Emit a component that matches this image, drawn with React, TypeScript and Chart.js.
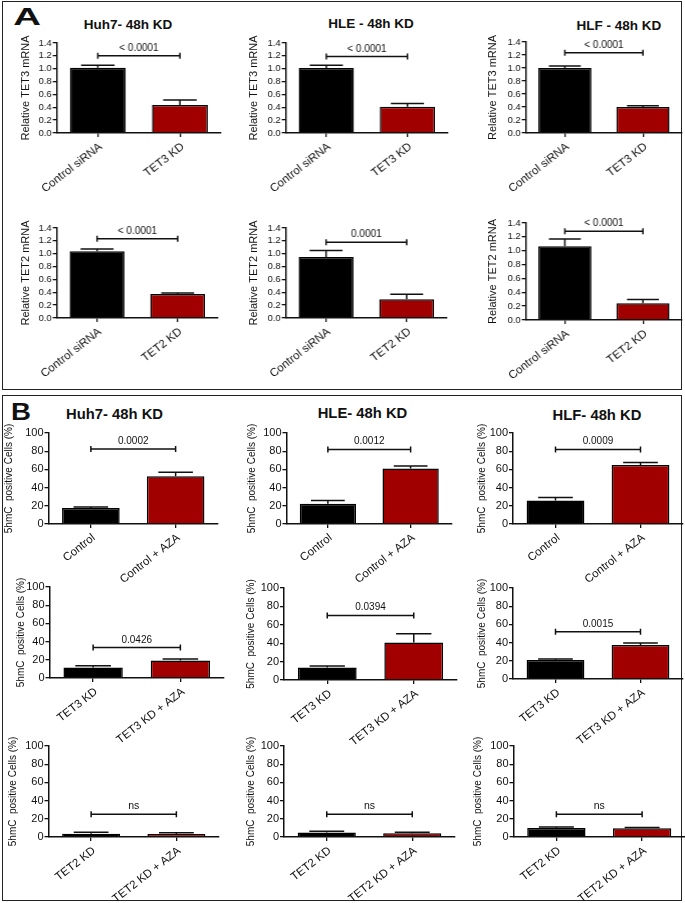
import React, { useEffect, useRef } from "react";
import { Chart, registerables } from "chart.js";

Chart.register(...registerables);

const FONT = "'Liberation Sans', Arial, Helvetica, sans-serif";

// ---------------- data ----------------
const panelATitles = ["Huh7- 48h KD", "HLE - 48h KD", "HLF - 48h KD"];
const panelBTitles = ["Huh7- 48h KD", "HLE- 48h KD", "HLF- 48h KD"];

const tet3Labels = ["Control siRNA", "TET3 KD"];
const tet3Mean = [[1.015, 0.437], [1.01, 0.41], [1.0, 0.4]];
const tet3Sem = [[0.04, 0.078], [0.045, 0.05], [0.03, 0.02]];
const tet3P = ["< 0.0001", "< 0.0001", "< 0.0001"];
const tet3Bracket = [1.2, 1.19, 1.235];

const tet2Labels = ["Control siRNA", "TET2 KD"];
const tet2Mean = [[1.037, 0.373], [0.95, 0.29], [1.063, 0.242]];
const tet2Sem = [[0.036, 0.016], [0.1, 0.08], [0.106, 0.053]];
const tet2P = ["< 0.0001", "0.0001", "< 0.0001"];
const tet2Bracket = [1.234, 1.18, 1.28];

const azaLabels = ["Control", "Control + AZA"];
const azaMean = [[17.6, 52.4], [22.2, 61], [25.8, 64.7]];
const azaSem = [[1.1, 4.4], [3.6, 2.6], [3.2, 2.9]];
const azaP = ["0.0002", "0.0012", "0.0009"];
const azaBracket = [82.5, 82, 82];

const tet3AzaLabels = ["TET3 KD", "TET3 KD + AZA"];
const tet3AzaMean = [[11.6, 19.3], [13.5, 40.7], [21, 37.5]];
const tet3AzaSem = [[1.9, 1.7], [1.8, 9.5], [1, 2]];
const tet3AzaP = ["0.0426", "0.0394", "0.0015"];
const tet3AzaBracket = [33.5, 70.2, 52];

const tet2AzaLabels = ["TET2 KD", "TET2 KD + AZA"];
const tet2AzaMean = [[3.6, 3.3], [5, 4], [9.8, 9.5]];
const tet2AzaSem = [[1.5, 1.4], [1.2, 1.1], [1.1, 1]];
const tet2AzaP = ["ns", "ns", "ns"];
const tet2AzaBracket = [25, 25, 25];

const mrnaMax = 1.4;
const mrnaStep = 0.2;
const pctMax = 100;
const pctStep = 20;

// ---------------- layout (page pixels) ----------------
const axisLeft = [57, 286, 526, 57, 286, 526, 48, 286, 513, 49, 284, 513, 48, 284, 513];
const axisRight = [221, 448, 682, 218, 447, 682, 218, 452, 683, 224, 457, 683, 219, 455, 685];
const plotTop = [43, 43, 42, 228, 228, 223, 433, 433, 433, 587, 588, 588, 746, 746, 746];
const plotBottom = [133, 133, 133, 318, 318, 320, 524, 524, 524, 678, 680, 679, 837, 837, 837];
const yTitleX = [26, 254, 493, 26, 254, 493, 8.5, 251.5, 482, 20.5, 251, 482, 12.5, 251, 477.5];

const BLACK = "#000000";
const RED = "#a00000";
const INK = "#111111";

type RowDef = {
  labels: string[];
  mean: number[][];
  sem: number[][];
  p: string[];
  bracket: number[];
  yTitle: string;
  kind: "A" | "B";
};

const rows: RowDef[] = [
  { labels: tet3Labels, mean: tet3Mean, sem: tet3Sem, p: tet3P, bracket: tet3Bracket, yTitle: "Relative TET3 mRNA", kind: "A" },
  { labels: tet2Labels, mean: tet2Mean, sem: tet2Sem, p: tet2P, bracket: tet2Bracket, yTitle: "Relative TET2 mRNA", kind: "A" },
  { labels: azaLabels, mean: azaMean, sem: azaSem, p: azaP, bracket: azaBracket, yTitle: "5hmC  positive Cells (%)", kind: "B" },
  { labels: tet3AzaLabels, mean: tet3AzaMean, sem: tet3AzaSem, p: tet3AzaP, bracket: tet3AzaBracket, yTitle: "5hmC  positive Cells (%)", kind: "B" },
  { labels: tet2AzaLabels, mean: tet2AzaMean, sem: tet2AzaSem, p: tet2AzaP, bracket: tet2AzaBracket, yTitle: "5hmC  positive Cells (%)", kind: "B" },
];

type Spec = {
  idx: number;
  labels: string[];
  mean: number[];
  sem: number[];
  p: string;
  bracket: number;
  yTitle: string;
  kind: "A" | "B";
};

const specs: Spec[] = [];
rows.forEach((r, ri) => {
  for (let c = 0; c < 3; c++) {
    specs.push({
      idx: ri * 3 + c,
      labels: r.labels,
      mean: r.mean[c],
      sem: r.sem[c],
      p: r.p[c],
      bracket: r.bracket[c],
      yTitle: r.yTitle,
      kind: r.kind,
    });
  }
});

function makeAnnotPlugin(sem: number[], bracket: number, pText: string, pFont: string) {
  return {
    id: "annot",
    afterDatasetsDraw(chart: any) {
      const ctx = chart.ctx;
      const meta = chart.getDatasetMeta(0);
      const ys = chart.scales.y;
      const vals = chart.data.datasets[0].data as number[];
      ctx.save();
      ctx.strokeStyle = INK;
      ctx.lineWidth = 1.5;
      meta.data.forEach((bar: any, i: number) => {
        const x = bar.x;
        const y = bar.y;
        const w = bar.width;
        const ye = ys.getPixelForValue(vals[i] + sem[i]);
        const hw = (w * 0.6) / 2;
        ctx.beginPath();
        ctx.moveTo(x, y);
        ctx.lineTo(x, ye);
        ctx.moveTo(x - hw, ye);
        ctx.lineTo(x + hw, ye);
        ctx.stroke();
      });
      const xa = meta.data[0].x;
      const xb = meta.data[1].x;
      const yb = ys.getPixelForValue(bracket);
      ctx.beginPath();
      ctx.moveTo(xa, yb);
      ctx.lineTo(xb, yb);
      ctx.moveTo(xa, yb - 3);
      ctx.lineTo(xa, yb + 3);
      ctx.moveTo(xb, yb - 3);
      ctx.lineTo(xb, yb + 3);
      ctx.stroke();
      ctx.fillStyle = INK;
      ctx.font = pFont;
      ctx.textAlign = "center";
      ctx.textBaseline = "alphabetic";
      ctx.fillText(pText, (xa + xb) / 2, yb - 5);
      ctx.restore();
    },
  };
}

function BarChart({ spec }: { spec: Spec }) {
  const ref = useRef<HTMLCanvasElement>(null);
  const i = spec.idx;
  const isA = spec.kind === "A";
  const titleSize = isA ? 11 : 10;
  const tickSize = isA ? 9.5 : 11;
  const labelSize = 11.5;
  const padTop = 12;
  const padRight = 12;
  const below = isA ? 75 : 90;
  const L = yTitleX[i] - titleSize * 0.6;
  const T = plotTop[i] - padTop;
  const W = axisRight[i] - L + padRight;
  const H = plotBottom[i] - T + below;
  const yAxisW = axisLeft[i] - L;

  useEffect(() => {
    if (!ref.current) return;
    const pFont = spec.p === "ns" ? `10.5px ${FONT}` : `10px ${FONT}`;
    const chart = new Chart(ref.current, {
      type: "bar",
      data: {
        labels: spec.labels,
        datasets: [
          {
            data: spec.mean,
            backgroundColor: [BLACK, RED],
            borderColor: BLACK,
            borderWidth: 1.5,
            barPercentage: 0.68,
            categoryPercentage: 1.0,
          },
        ],
      },
      options: {
        responsive: false,
        animation: false,
        layout: { padding: { top: padTop, right: padRight, left: 0, bottom: 0 } },
        plugins: {
          legend: { display: false },
          tooltip: { enabled: false },
          title: { display: false },
        },
        scales: {
          x: {
            type: "category",
            offset: true,
            grid: {
              display: true,
              offset: false,
              drawOnChartArea: false,
              drawTicks: true,
              tickLength: 4,
              color: INK,
              lineWidth: 1.3,
            },
            border: { display: true, color: INK, width: 1.5 },
            ticks: {
              autoSkip: false,
              maxRotation: 38,
              minRotation: 38,
              padding: 3,
              labelOffset: 3,
              color: INK,
              font: { family: FONT, size: labelSize },
            },
            afterFit: (s: any) => {
              s.height = below;
            },
          },
          y: {
            type: "linear",
            min: 0,
            max: isA ? mrnaMax : pctMax,
            grid: {
              display: true,
              drawOnChartArea: false,
              drawTicks: true,
              tickLength: 4,
              color: INK,
              lineWidth: 1.3,
            },
            border: { display: true, color: INK, width: 1.5 },
            ticks: {
              autoSkip: false,
              stepSize: isA ? mrnaStep : pctStep,
              padding: 1,
              color: INK,
              font: { family: FONT, size: tickSize },
              callback: (v: any) => (isA ? Number(v).toFixed(1) : String(v)),
            },
            title: {
              display: true,
              text: spec.yTitle,
              color: INK,
              padding: { top: 0, bottom: 0 },
              font: { family: FONT, size: titleSize },
            },
            afterFit: (s: any) => {
              s.width = yAxisW;
            },
          },
        },
      } as any,
      plugins: [makeAnnotPlugin(spec.sem, spec.bracket, spec.p, pFont)],
    });
    return () => chart.destroy();
  }, []);

  return (
    <canvas
      ref={ref}
      width={W}
      height={H}
      style={{ position: "absolute", left: L, top: T, width: W, height: H }}
    />
  );
}

const titleStyle = (x: number, y: number, size: number): React.CSSProperties => ({
  position: "absolute",
  left: x,
  top: y,
  transform: "translate(-50%, -50%)",
  fontFamily: FONT,
  fontWeight: "bold",
  fontSize: size,
  color: INK,
  whiteSpace: "pre",
  lineHeight: 1,
});

const aTitleX = [128, 371, 619];
const aTitleY = [24.5, 24, 25.5];
const bTitleX = [114.5, 362.5, 597];
const bTitleY = [413.5, 413, 415];

export default function App() {
  return (
    <div
      style={{
        position: "absolute",
        left: 0,
        top: 0,
        width: 685,
        height: 903,
        overflow: "hidden",
        background: "#ffffff",
      }}
    >
      <div
        style={{
          position: "absolute",
          left: 2,
          top: 1,
          width: 680,
          height: 389,
          boxSizing: "border-box",
          border: "1.5px solid #222",
        }}
      />
      <div
        style={{
          position: "absolute",
          left: 2,
          top: 395,
          width: 680,
          height: 506,
          boxSizing: "border-box",
          border: "1.5px solid #222",
        }}
      />
      <div style={{ ...titleStyle(26.5, 17, 24), transform: "translate(-50%, -50%) scaleX(1.6)" }}>A</div>
      <div style={{ ...titleStyle(20.5, 412, 24), transform: "translate(-50%, -50%) scaleX(1.15)" }}>B</div>
      {panelATitles.map((t, k) => (
        <div key={"at" + k} style={titleStyle(aTitleX[k], aTitleY[k], 13.5)}>
          {t}
        </div>
      ))}
      {panelBTitles.map((t, k) => (
        <div key={"bt" + k} style={titleStyle(bTitleX[k], bTitleY[k], 14.8)}>
          {t}
        </div>
      ))}
      {specs.map((s) => (
        <BarChart key={s.idx} spec={s} />
      ))}
    </div>
  );
}
